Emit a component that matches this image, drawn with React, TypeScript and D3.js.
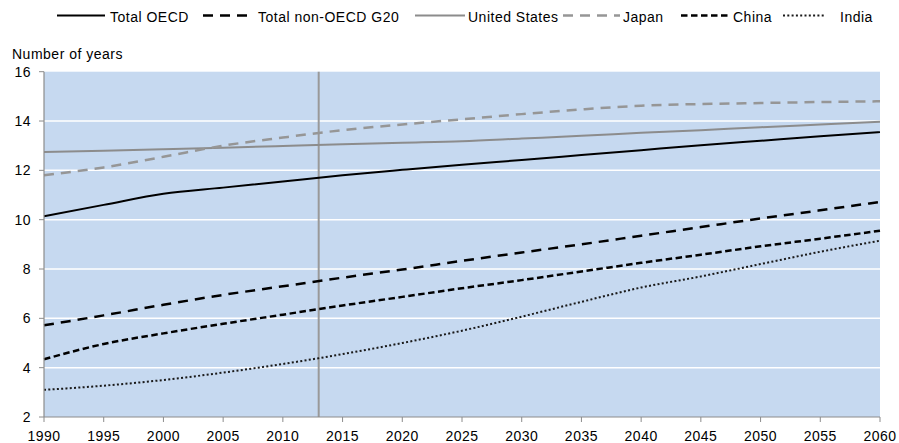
import React from "react";
import * as d3 from "d3";

const years = [1990, 1995, 2000, 2005, 2010, 2015, 2020, 2025, 2030, 2035, 2040, 2045, 2050, 2055, 2060];
const totalOECD = [10.14, 10.6, 11.05, 11.3, 11.55, 11.8, 12.02, 12.23, 12.42, 12.62, 12.82, 13.02, 13.2, 13.38, 13.55];
const nonOECDG20 = [5.72, 6.12, 6.55, 6.95, 7.3, 7.65, 7.98, 8.33, 8.67, 9.0, 9.35, 9.7, 10.05, 10.38, 10.72];
const unitedStates = [12.74, 12.8, 12.86, 12.92, 12.99, 13.06, 13.12, 13.18, 13.29, 13.4, 13.52, 13.63, 13.75, 13.86, 13.97];
const japan = [11.8, 12.12, 12.55, 13.0, 13.33, 13.63, 13.86, 14.07, 14.28, 14.47, 14.62, 14.69, 14.73, 14.77, 14.8];
const china = [4.34, 4.96, 5.39, 5.78, 6.15, 6.52, 6.87, 7.22, 7.55, 7.9, 8.25, 8.58, 8.92, 9.23, 9.55];
const india = [3.1, 3.27, 3.5, 3.8, 4.15, 4.55, 5.0, 5.5, 6.07, 6.67, 7.25, 7.7, 8.2, 8.7, 9.15];
const yTicks = [2, 4, 6, 8, 10, 12, 14, 16];
const xTicks = [1990, 1995, 2000, 2005, 2010, 2015, 2020, 2025, 2030, 2035, 2040, 2045, 2050, 2055, 2060];
const markerYear = 2013;
const yLabel = "Number of years";

const seriesList = [
  { name: "Total OECD", values: totalOECD, color: "#000000", width: 2, dash: "" },
  { name: "Total non-OECD G20", values: nonOECDG20, color: "#000000", width: 2.5, dash: "10,7" },
  { name: "United States", values: unitedStates, color: "#8c8c8c", width: 2, dash: "" },
  { name: "Japan", values: japan, color: "#969696", width: 2.5, dash: "10,7" },
  { name: "China", values: china, color: "#000000", width: 2.5, dash: "6.5,3.5" },
  { name: "India", values: india, color: "#1a1a1a", width: 2, dash: "2,2.3" },
];

const legendLines = [
  [57, 105],
  [203, 254],
  [415, 465],
  [563, 620],
  [681, 730],
  [783, 826],
];
const legendText = [110, 258, 468, 623, 733, 840];

export default function App() {
  const W = 899;
  const H = 443;
  const left = 44;
  const right = 880;
  const top = 71.7;
  const bottom = 417;
  const x = d3.scaleLinear().domain([1990, 2060]).range([left, right]);
  const y = d3.scaleLinear().domain([2, 16]).range([bottom, top]);
  const line = d3
    .line<number>()
    .x((_, i) => x(years[i]))
    .y((d) => y(d))
    .curve(d3.curveMonotoneX);
  const font = "'Liberation Sans', Arial, sans-serif";
  const axisColor = "#8c8c8c";
  const fs = 14;
  const ls = 0.5;

  return (
    <svg
      width={W}
      height={H}
      style={{ position: "absolute", left: 0, top: 0, display: "block", background: "#fff" }}
      fontFamily={font}
    >
      <rect x={left} y={top} width={right - left} height={bottom - top} fill="#c6d9f0" />
      {yTicks
        .filter((t) => t !== 2 && t !== 16)
        .map((t) => (
          <line key={t} x1={left} x2={right} y1={y(t)} y2={y(t)} stroke="#ffffff" strokeWidth={1.5} />
        ))}
      <line x1={x(markerYear)} x2={x(markerYear)} y1={top} y2={bottom} stroke="#999999" strokeWidth={2} />
      {seriesList.map((s) => (
        <path
          key={s.name}
          d={line(s.values) || ""}
          fill="none"
          stroke={s.color}
          strokeWidth={s.width}
          strokeDasharray={s.dash || undefined}
        />
      ))}
      <line x1={left} x2={left} y1={top} y2={bottom} stroke={axisColor} strokeWidth={1.2} />
      <line x1={left} x2={right} y1={bottom} y2={bottom} stroke={axisColor} strokeWidth={1.2} />
      {yTicks.map((t) => (
        <g key={t}>
          <line x1={left - 5} x2={left} y1={y(t)} y2={y(t)} stroke={axisColor} strokeWidth={1} />
          <text x={31} y={y(t) + 5} textAnchor="end" fontSize={fs} letterSpacing={ls} fill="#000">
            {t}
          </text>
        </g>
      ))}
      {xTicks.map((t) => (
        <g key={t}>
          <line x1={x(t)} x2={x(t)} y1={bottom} y2={bottom + 5} stroke={axisColor} strokeWidth={1} />
          <text x={x(t)} y={441} textAnchor="middle" fontSize={fs} letterSpacing={ls} fill="#000">
            {t}
          </text>
        </g>
      ))}
      <text x={12} y={58.5} fontSize={fs} letterSpacing={ls} fill="#000">
        {yLabel}
      </text>
      {seriesList.map((s, i) => (
        <g key={s.name}>
          <line
            x1={legendLines[i][0]}
            x2={legendLines[i][1]}
            y1={15.5}
            y2={15.5}
            stroke={s.color}
            strokeWidth={s.width}
            strokeDasharray={s.dash || undefined}
          />
          <text x={legendText[i]} y={21.5} fontSize={fs} letterSpacing={ls} fill="#000">
            {s.name}
          </text>
        </g>
      ))}
    </svg>
  );
}
